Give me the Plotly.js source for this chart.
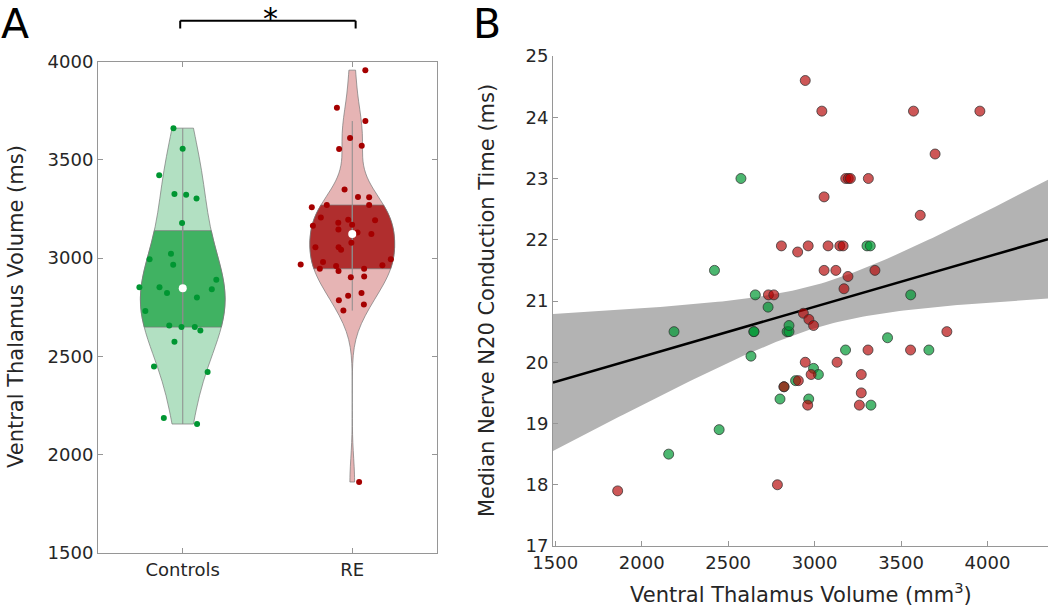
<!DOCTYPE html>
<html>
<head>
<meta charset="utf-8">
<script src="https://cdn.plot.ly/plotly-3.0.1.min.js"></script>
<style>html,body{margin:0;padding:0;background:#fff}#chart{width:1050px;height:606px}</style>
</head>
<body>
<div id="chart"></div>
<script>
// ---------------- data ----------------
const groups = ['Controls', 'RE'];

// Ventral thalamus volume (mm^3) and median nerve N20 conduction time (ms), paired by subject
const controlsVolume = [2574, 2421, 2657, 2731, 2187, 2649, 2649, 2841, 2852, 2852, 2632, 2823, 2890, 2800, 2448, 2156, 3303, 3322, 3556, 3422, 3179, 3661, 2994, 3022, 2966, 3326];
const controlsN20    = [23.0, 21.5, 21.1, 20.9, 20.5, 20.5, 20.5, 20.5, 20.5, 20.6, 20.1, 19.6, 19.7, 19.4, 18.9, 18.5, 21.9, 21.9, 21.1, 20.4, 20.2, 20.2, 19.9, 19.8, 19.4, 19.3];

const reVolume = [2808, 2902, 2733, 2764, 2823, 2906, 1861, 2785, 2946, 3042, 3572, 3956, 3697, 3180, 3195, 3207, 3311, 3055, 3611, 2963, 3078, 3146, 3165, 3055, 3123, 3349, 3193, 3170, 2935, 2967, 2994, 3765, 3309, 3555, 2946, 3130, 2980, 3270, 3270, 2960, 3259];
const reN20    = [21.9, 21.8, 21.1, 21.1, 19.6, 19.7, 17.9, 18.0, 24.6, 24.1, 24.1, 24.1, 23.4, 23.0, 23.0, 23.0, 23.0, 22.7, 22.4, 21.9, 21.9, 21.9, 21.9, 21.5, 21.5, 21.5, 21.4, 21.2, 20.8, 20.7, 20.6, 20.5, 20.2, 20.2, 20.0, 20.0, 19.8, 19.8, 19.5, 19.3, 19.3];

// Fitted line and 95% confidence band of panel B
const fitEndX = [1500, 4350];          // volume at the two ends of the drawn line
const fitEndY = [19.68, 22.01];        // conduction time on the line at those ends
const bandEndHalfWidth = [1.11, 0.97]; // half-width of the band at those ends (ms)
const bandMinHalfWidth = 0.35;         // narrowest half-width of the band (ms)

const yTicksA = [1500, 2000, 2500, 3000, 3500, 4000];
const xTicksB = [1500, 2000, 2500, 3000, 3500, 4000];
const yTicksB = [17, 18, 19, 20, 21, 22, 23, 24, 25];

// ---------------- styles ----------------
const greenDot = 'rgb(0,150,50)';
const redDot = 'rgb(165,0,0)';
const greenLight = 'rgb(178,224,194)';
const greenDark = 'rgb(64,178,98)';
const redLight = 'rgb(230,180,180)';
const redDark = 'rgb(176,46,46)';
const axisGray = 'rgb(150,150,150)';
const textCol = 'rgb(38,38,38)';
const FONT = 'DejaVu Sans, Verdana, sans-serif';

function quantile(arr, p) {
  const s = [...arr].sort((a, b) => a - b);
  const h = (s.length - 1) * p;
  const lo = Math.floor(h);
  const hi = Math.min(lo + 1, s.length - 1);
  return s[lo] + (h - lo) * (s[hi] - s[lo]);
}

const traces = [];
const groupData = [
  {name: groups[0], vals: controlsVolume, light: greenLight, dark: greenDark, dot: greenDot},
  {name: groups[1], vals: reVolume, light: redLight, dark: redDark, dot: redDot}
];

const VW = 0.5;
groupData.forEach(g => {
  const xs = g.vals.map(() => g.name);
  const q1 = quantile(g.vals, 0.25), q3 = quantile(g.vals, 0.75);
  traces.push({
    type: 'violin', x: xs, y: g.vals, xaxis: 'x', yaxis: 'y',
    spanmode: 'hard', scalemode: 'width', width: VW,
    fillcolor: g.light, line: {color: 'rgba(120,120,120,0.7)', width: 1},
    points: false, box: {visible: false}, meanline: {visible: false},
    showlegend: false, hoverinfo: 'skip'
  });
  traces.push({
    type: 'violin', x: xs, y: g.vals, xaxis: 'x', yaxis: 'y',
    spanmode: 'manual', span: [q1, q3], scalemode: 'width', width: VW,
    fillcolor: g.dark, line: {color: 'rgba(120,120,120,0.7)', width: 1},
    points: false, box: {visible: false}, meanline: {visible: false},
    showlegend: false, hoverinfo: 'skip'
  });
  traces.push({
    type: 'violin', x: xs, y: g.vals, xaxis: 'x', yaxis: 'y',
    spanmode: 'hard', scalemode: 'width', width: VW * 1.25,
    fillcolor: 'rgba(0,0,0,0)', line: {color: 'rgba(0,0,0,0)', width: 0},
    points: 'all', pointpos: 0, jitter: 1,
    marker: {size: 6, color: g.dot, line: {width: 0}},
    box: {visible: true, width: 0, fillcolor: 'rgba(0,0,0,0)', line: {color: 'rgb(140,140,140)', width: 1}},
    meanline: {visible: false},
    showlegend: false, hoverinfo: 'skip'
  });
  traces.push({
    type: 'scatter', mode: 'markers', x: [g.name], y: [quantile(g.vals, 0.5)],
    xaxis: 'x', yaxis: 'y',
    marker: {size: 8, color: 'white', line: {width: 0}},
    showlegend: false, hoverinfo: 'skip'
  });
});

// ---------------- fitted line + band (panel B) ----------------
const slope = (fitEndY[1] - fitEndY[0]) / (fitEndX[1] - fitEndX[0]);
const icpt = fitEndY[0] - slope * fitEndX[0];
// band half-width follows hw(x)^2 = a + b (x - x0)^2
const a = bandMinHalfWidth ** 2;
const dL = Math.sqrt(bandEndHalfWidth[0] ** 2 - a), dR = Math.sqrt(bandEndHalfWidth[1] ** 2 - a);
const x0 = (dL * fitEndX[1] + dR * fitEndX[0]) / (dL + dR);
const b = (bandEndHalfWidth[0] ** 2 - a) / (fitEndX[0] - x0) ** 2;

const xRangeB = [1487, 4350];
const fitX = [], fitY = [], upY = [], loY = [];
for (let k = 0; k <= 120; k++) {
  const xv = xRangeB[0] + (xRangeB[1] - xRangeB[0]) * k / 120;
  const yv = icpt + slope * xv;
  const hw = Math.sqrt(a + b * (xv - x0) ** 2);
  fitX.push(xv); fitY.push(yv); upY.push(yv + hw); loY.push(yv - hw);
}
traces.push({
  type: 'scatter', mode: 'lines', xaxis: 'x2', yaxis: 'y2',
  x: fitX.concat([...fitX].reverse()), y: upY.concat([...loY].reverse()),
  fill: 'toself', fillcolor: 'rgb(179,179,179)', line: {width: 0},
  showlegend: false, hoverinfo: 'skip'
});
traces.push({
  type: 'scatter', mode: 'lines', xaxis: 'x2', yaxis: 'y2',
  x: fitX, y: fitY, line: {color: 'black', width: 2.5},
  showlegend: false, hoverinfo: 'skip'
});
traces.push({
  type: 'scatter', mode: 'markers', xaxis: 'x2', yaxis: 'y2',
  x: controlsVolume, y: controlsN20,
  marker: {size: 10, color: 'rgba(0,153,51,0.7)', line: {color: 'rgba(50,50,50,0.75)', width: 1}},
  showlegend: false, hoverinfo: 'skip'
});
traces.push({
  type: 'scatter', mode: 'markers', xaxis: 'x2', yaxis: 'y2',
  x: reVolume, y: reN20,
  marker: {size: 10, color: 'rgba(179,0,0,0.66)', line: {color: 'rgba(50,50,50,0.75)', width: 1}},
  showlegend: false, hoverinfo: 'skip'
});

// ---------------- layout ----------------
const W = 1050, H = 606;
const px = v => v / W;
const py = v => 1 - v / H;

const axCommon = {
  showline: true, linecolor: axisGray, linewidth: 1,
  ticks: 'inside', ticklen: 5, tickcolor: axisGray, tickwidth: 1,
  showgrid: false, zeroline: false,
  tickfont: {family: FONT, size: 18, color: textCol}
};

const layout = {
  width: W, height: H,
  margin: {l: 0, r: 0, t: 0, b: 0},
  paper_bgcolor: 'white', plot_bgcolor: 'white',
  font: {family: FONT, color: textCol},
  showlegend: false,
  violinmode: 'overlay',
  xaxis: Object.assign({}, axCommon, {
    domain: [px(98), px(437)], anchor: 'y', type: 'category',
    categoryorder: 'array', categoryarray: groups,
    range: [-0.5, 1.5], mirror: 'ticks'
  }),
  yaxis: Object.assign({}, axCommon, {
    domain: [py(553), py(61.5)], anchor: 'x',
    range: [1500, 4000], tickvals: yTicksA, mirror: 'ticks'
  }),
  xaxis2: Object.assign({}, axCommon, {
    domain: [px(553), px(1048)], anchor: 'y2',
    range: xRangeB, tickvals: xTicksB
  }),
  yaxis2: Object.assign({}, axCommon, {
    domain: [py(546), py(56)], anchor: 'x2',
    range: [17, 25], tickvals: yTicksB
  }),
  shapes: [
    {type: 'line', xref: 'x', yref: 'paper', x0: -0.015, x1: 1.02, y0: py(20.7), y1: py(20.7), line: {color: 'black', width: 2}},
    {type: 'line', xref: 'x', yref: 'paper', x0: -0.015, x1: -0.015, y0: py(20.7), y1: py(28.5), line: {color: 'black', width: 2}},
    {type: 'line', xref: 'x', yref: 'paper', x0: 1.02, x1: 1.02, y0: py(20.7), y1: py(28.5), line: {color: 'black', width: 2}}
  ],
  annotations: [
    {text: 'A', xref: 'paper', yref: 'paper', x: px(15), y: py(24), xanchor: 'center', yanchor: 'middle', showarrow: false, font: {family: FONT, size: 41, color: 'black'}},
    {text: 'B', xref: 'paper', yref: 'paper', x: px(487), y: py(24), xanchor: 'center', yanchor: 'middle', showarrow: false, font: {family: FONT, size: 41, color: 'black'}},
    {text: '*', xref: 'paper', yref: 'paper', x: px(270), y: 1, xanchor: 'center', yanchor: 'top', borderpad: 0, showarrow: false, font: {family: FONT, size: 30, color: 'black'}},
    {text: 'Ventral Thalamus Volume (ms)', xref: 'paper', yref: 'paper', x: px(16), y: py(307), textangle: -90, xanchor: 'center', yanchor: 'middle', showarrow: false, font: {family: FONT, size: 21, color: textCol}},
    {text: 'Median Nerve N20 Conduction Time (ms)', xref: 'paper', yref: 'paper', x: px(487), y: py(301), textangle: -90, xanchor: 'center', yanchor: 'middle', showarrow: false, font: {family: FONT, size: 21, color: textCol}},
    {text: 'Ventral Thalamus Volume (mm<sup>3</sup>)', xref: 'paper', yref: 'paper', x: px(800.5), y: py(593), xanchor: 'center', yanchor: 'middle', showarrow: false, font: {family: FONT, size: 21, color: textCol}}
  ]
};

Plotly.newPlot('chart', traces, layout, {staticPlot: true, displayModeBar: false});
</script>
</body>
</html>
